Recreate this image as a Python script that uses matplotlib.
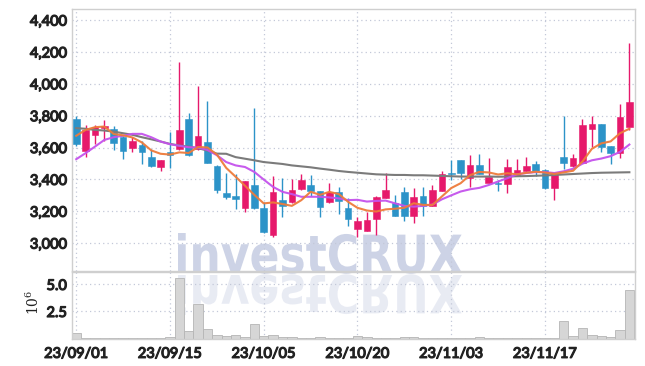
import numpy as np
import pandas as pd
import matplotlib
matplotlib.use("Agg")
import matplotlib.pyplot as plt
import matplotlib.patheffects as pe
from matplotlib.textpath import TextPath
from matplotlib.patches import PathPatch
from matplotlib.font_manager import FontProperties
from matplotlib.transforms import Affine2D, IdentityTransform
from matplotlib.ticker import FuncFormatter

# ============================
# DATA
# ============================

tick_pos = [0, 10, 20, 30, 40, 50]
tick_labels = ["23/09/01", "23/09/15", "23/10/05", "23/10/20", "23/11/03", "23/11/17"]

open_ = [3780, 3580, 3680, 3720, 3715, 3665, 3600, 3617, 3542, 3480,
         3573, 3590, 3780, 3590, 3638, 3487, 3312, 3296, 3218, 3364,
         3223, 3048, 3270, 3256, 3337, 3364, 3326, 3256, 3318, 3218,
         3087, 3079, 3150, 3284, 3250, 3324, 3173, 3296, 3236, 3330,
         3443, 3523, 3407, 3491, 3380, 3380, 3372, 3425, 3453, 3499,
         3457, 3347, 3541, 3484, 3503, 3719, 3746, 3609, 3567, 3731]
high = [3800, 3740, 3740, 3770, 3735, 3670, 3665, 3642, 3590, 3525,
        3697, 4137, 3816, 3988, 3894, 3492, 3443, 3437, 3393, 3848,
        3256, 3422, 3412, 3400, 3437, 3430, 3330, 3380, 3353, 3281,
        3166, 3198, 3295, 3439, 3303, 3355, 3345, 3355, 3365, 3450,
        3523, 3525, 3554, 3558, 3533, 3398, 3531, 3531, 3541, 3514,
        3467, 3440, 3801, 3562, 3778, 3801, 3748, 3611, 3875, 4259]
low = [3610, 3540, 3620, 3640, 3585, 3527, 3575, 3495, 3477, 3455,
       3470, 3585, 3550, 3585, 3500, 3315, 3275, 3212, 3198, 3215,
       3065, 3036, 3167, 3250, 3335, 3295, 3167, 3250, 3183, 3108,
       3037, 3078, 3051, 3282, 3170, 3141, 3125, 3171, 3234, 3328,
       3397, 3401, 3351, 3433, 3378, 3325, 3315, 3420, 3450, 3421,
       3337, 3271, 3463, 3478, 3500, 3605, 3573, 3495, 3537, 3710]
close = [3620, 3710, 3730, 3735, 3630, 3580, 3642, 3575, 3485, 3523,
         3555, 3711, 3556, 3674, 3506, 3334, 3291, 3280, 3391, 3218,
         3067, 3322, 3230, 3333, 3395, 3330, 3229, 3322, 3266, 3150,
         3141, 3146, 3288, 3334, 3171, 3171, 3288, 3236, 3334, 3435,
         3436, 3439, 3491, 3435, 3418, 3372, 3478, 3457, 3482, 3453,
         3345, 3436, 3505, 3533, 3742, 3746, 3605, 3567, 3790, 3883]

# volume in millions
volume = [0.48, 0.08, 0.06, 0.07, 0.05, 0.06, 0.05, 0.04, 0.06, 0.05,
          0.10, 5.57, 0.69, 3.17, 0.85, 0.36, 0.22, 0.30, 0.15, 1.34,
          0.22, 0.32, 0.12, 0.12, 0.05, 0.04, 0.12, 0.06, 0.05, 0.04,
          0.20, 0.15, 0.08, 0.05, 0.04, 0.10, 0.10, 0.08, 0.06, 0.06,
          0.04, 0.03, 0.03, 0.10, 0.03, 0.03, 0.03, 0.03, 0.03, 0.03,
          0.03, 0.03, 1.62, 0.24, 0.97, 0.34, 0.20, 0.10, 0.76, 4.46]

# first four 5-day MA values (need closes from before the window)
ma5_head = [3674, 3711, 3728, 3732]

ma20 = [3527, 3565, 3606, 3648, 3665, 3674, 3686, 3686, 3665, 3638,
        3621, 3611, 3602, 3600, 3585, 3552, 3509, 3488, 3478, 3447,
        3399, 3353, 3322, 3308, 3291, 3291, 3291, 3287, 3281, 3270,
        3272, 3261, 3265, 3267, 3250, 3234, 3229, 3234, 3242, 3275,
        3300, 3324, 3338, 3347, 3365, 3387, 3408, 3432, 3440, 3446,
        3446, 3440, 3451, 3467, 3499, 3520, 3531, 3546, 3573, 3619]

ma60 = [3722, 3718, 3711, 3707, 3700, 3690, 3680, 3665, 3652, 3638,
        3623, 3613, 3606, 3596, 3581, 3562, 3561, 3540, 3530, 3520,
        3509, 3503, 3497, 3488, 3482, 3476, 3468, 3461, 3453, 3447,
        3442, 3437, 3432, 3430, 3428, 3428, 3426, 3426, 3424, 3422,
        3420, 3418, 3418, 3418, 3418, 3417, 3418, 3420, 3421, 3423,
        3425, 3428, 3431, 3434, 3437, 3440, 3442, 3443, 3444, 3445]

# ============================
# STYLE
# ============================

UP = "#e6196b"
DOWN = "#2c93c8"
GRID = "#c3c8d8"
SPINE = "#cfcfcf"
TXT = "#222222"

plt.rcParams["font.family"] = ["Lato", "DejaVu Sans"]

x = np.arange(len(close))
o = np.array(open_)
c = np.array(close)
up = c >= o
colors = np.where(up, UP, DOWN)

ma5 = pd.Series(close, dtype=float).rolling(5).mean().values
ma5[:4] = ma5_head

fig = plt.figure(figsize=(6.45, 3.66), dpi=100)
fig.patch.set_facecolor("white")

ax = fig.add_axes([72 / 645, 1 - 271 / 366, 563 / 645, 262 / 366])
axv = fig.add_axes([72 / 645, 1 - 338.5 / 366, 563 / 645, 66.5 / 366])

for a in (ax, axv):
    a.set_facecolor("none")
    a.set_xlim(-0.45, 59.6)
    a.set_xticks(tick_pos)
    a.grid(True, linestyle=(0, (1, 2.5)), color=GRID, linewidth=0.9)
    a.set_axisbelow(True)
    a.tick_params(length=0, colors=TXT, labelsize=10.5)
    for s in a.spines.values():
        s.set_color(SPINE)
        s.set_linewidth(1.0)

# ---- candles ----
ax.vlines(x, low, high, colors=colors, linewidth=1.0, zorder=2)
body_h = np.maximum(np.abs(c - o), 4)
ax.bar(x, body_h, bottom=np.minimum(o, c), width=0.7, color=colors,
       edgecolor=colors, linewidth=0.4, zorder=3)

# ---- moving averages ----
ax.plot(x, ma60, color="#7b7b7b", linewidth=1.5, zorder=4)
ax.plot(x, ma20, color="#c452ec", linewidth=1.5, alpha=0.95, zorder=4)
ax.plot(x, ma5, color="#ee7b3b", linewidth=1.5, alpha=0.95, zorder=4)

ax.set_ylim(2825, 4470)
ax.set_yticks([3000, 3200, 3400, 3600, 3800, 4000, 4200, 4400])
ax.yaxis.set_major_formatter(FuncFormatter(lambda v, p: f"{int(v):,}"))
ax.set_xticklabels([])

# ---- volume ----
axv.bar(x, volume, width=1.0, color="#d6d6d6", edgecolor="#b5b5b5",
        linewidth=0.6, zorder=2)
axv.set_ylim(0, 6.15)
axv.set_yticks([2.5, 5.0])
axv.set_yticklabels(["2.5", "5.0"])
axv.set_xticklabels(tick_labels)
axv.tick_params(axis="x", pad=6)

# thicken tick labels (no bold face installed for the narrow fonts)
thick = [pe.withStroke(linewidth=0.9, foreground=TXT)]
for t in ax.yaxis.get_major_ticks() + axv.yaxis.get_major_ticks() + axv.xaxis.get_major_ticks():
    t.label1.set_path_effects(thick)

fig.text(32 / 645, 1 - 302 / 366, r"$10^6$", rotation=90, ha="center",
         va="center", fontsize=10, color=TXT, math_fontfamily="dejavuserif")

# ---- watermark with reflection ----
tp = TextPath((0, 0), "investCRUX", size=50,
              prop=FontProperties(family="DejaVu Sans", weight="bold"))
bb = tp.get_extents()
sx = 284 / bb.width
sy = 40 / bb.y1
base = 366 - 273
wm = PathPatch(tp, facecolor="#cdd3e6", edgecolor="none", zorder=-1,
               transform=Affine2D().translate(-bb.x0, 0).scale(sx, sy)
               .translate(178, base) + IdentityTransform())
wm_ref = PathPatch(tp, facecolor="#cdd3e6", edgecolor="none", alpha=0.45,
                   zorder=-1,
                   transform=Affine2D().translate(-bb.x0, 0).scale(sx, -sy)
                   .translate(178, base - 2) + IdentityTransform())
fig.add_artist(wm)
fig.add_artist(wm_ref)

fig.savefig("out.png", dpi=100, facecolor="white")
